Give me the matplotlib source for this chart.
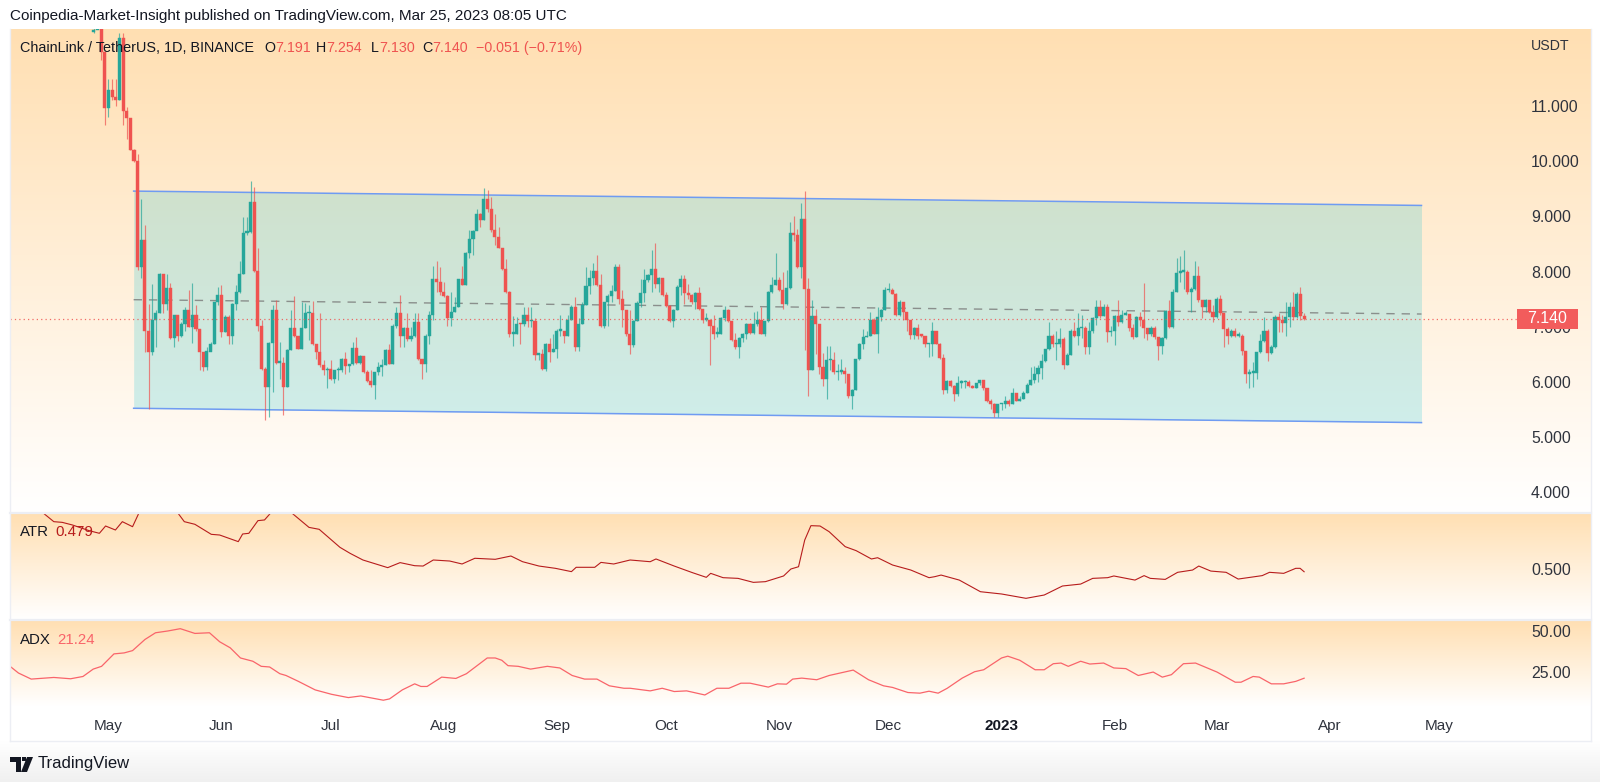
# ChainLink / TetherUS daily chart with channel, ATR and ADX panes
import pandas as pd
import matplotlib
matplotlib.use("Agg")
import matplotlib.pyplot as plt
import numpy as np
from matplotlib.colors import LinearSegmentedColormap
from matplotlib.patches import Polygon, Rectangle

plt.rcParams["font.family"] = ["Liberation Sans", "DejaVu Sans"]

W, H = 1600, 782
UP = "#26a69a"
DOWN = "#ef5350"
TEXT = "#131722"
AXTEXT = "#2f333d"
BORDER = "#eceef4"

# daily candles, first one is 2022-04-27
first_day = "2022-04-27"
closes = [
    12.39, 12.60, 11.99, 10.96, 11.30, 11.17, 11.12, 12.23, 10.91, 10.79, 10.20, 10.00,
    8.08, 8.58, 6.93, 6.54, 7.13, 7.25, 7.95, 7.41, 7.71, 6.79, 7.21, 6.84, 7.04, 7.31, 6.99, 7.22, 6.95,
    6.54, 6.27, 6.55, 6.69, 7.44, 7.57, 6.90, 7.18, 6.83, 7.42, 7.63, 7.96, 8.70, 8.71, 9.26, 8.01, 7.02,
    6.24, 5.91, 6.71, 7.31, 6.34, 6.35, 5.91, 6.58, 6.97, 6.83, 6.60, 6.98, 7.24, 7.25, 6.68, 6.54, 6.30,
    6.21, 6.24, 6.06, 6.21, 6.21, 6.41, 6.28, 6.32, 6.62, 6.34, 6.46, 6.18, 6.01, 5.94, 6.17, 6.27, 6.31,
    6.58, 6.33, 7.02, 7.24, 6.84, 6.98, 6.77, 6.83, 7.08, 6.41, 6.32, 6.84, 7.21, 7.87, 7.81, 7.63, 7.56,
    7.16, 7.27, 7.35, 7.86, 7.76, 8.34, 8.59, 8.73, 9.05, 8.94, 9.31, 9.13, 8.75, 8.63, 8.43, 8.04, 7.63,
    6.87, 6.87, 7.05, 7.04, 7.22, 7.10, 7.11, 6.49, 6.51, 6.23, 6.68, 6.54, 6.60, 6.92, 6.92, 6.83, 7.13,
    7.36, 6.64, 7.05, 7.40, 7.73, 7.89, 8.01, 7.75, 7.01, 7.44, 7.55, 7.65, 8.08, 7.51, 7.30, 6.87, 6.66,
    7.10, 7.43, 7.62, 7.84, 7.93, 8.04, 7.77, 7.88, 7.57, 7.38, 7.10, 7.31, 7.72, 7.86, 7.62, 7.58, 7.44,
    7.61, 7.33, 7.13, 7.13, 7.01, 6.87, 6.87, 7.16, 7.31, 7.11, 6.75, 6.63, 6.79, 6.87, 7.05, 6.89, 7.04,
    7.13, 6.87, 7.10, 7.63, 7.76, 7.84, 7.66, 7.42, 7.71, 8.70, 8.66, 8.08, 8.95, 7.69, 6.21, 7.20, 7.04,
    6.26, 6.06, 6.39, 6.39, 6.17, 6.18, 6.20, 6.14, 5.74, 5.86, 6.41, 6.69, 6.81, 6.83, 7.13, 6.87, 7.18,
    7.31, 7.66, 7.66, 7.60, 7.22, 7.44, 7.27, 7.12, 6.85, 6.98, 6.84, 6.83, 6.68, 6.69, 6.92, 6.69, 6.44,
    5.86, 6.01, 5.92, 5.77, 5.98, 5.99, 5.99, 5.92, 5.89, 5.97, 6.03, 5.88, 5.65, 5.59, 5.44, 5.59, 5.60,
    5.66, 5.59, 5.79, 5.66, 5.69, 5.80, 5.95, 6.04, 6.15, 6.25, 6.37, 6.59, 6.84, 6.68, 6.68, 6.78, 6.31,
    6.49, 6.92, 6.83, 6.97, 6.98, 6.64, 6.93, 7.15, 7.36, 7.19, 7.35, 6.90, 6.92, 7.19, 7.09, 7.22, 7.23,
    6.97, 6.81, 7.18, 7.13, 6.97, 6.87, 6.98, 6.81, 6.65, 6.80, 7.29, 7.00, 7.63, 7.98, 7.99, 7.99, 7.63,
    7.69, 7.92, 7.48, 7.35, 7.48, 7.27, 7.18, 7.51, 7.24, 6.95, 6.83, 6.92, 6.84, 6.84, 6.56, 6.15, 6.16,
    6.16, 6.54, 6.74, 6.93, 6.53, 6.64, 7.18, 7.12, 7.06, 7.18, 7.35, 7.18, 7.59, 7.19, 7.14,
]
highs = [
    12.60, 12.80, 12.70, 11.99, 11.50, 11.50, 11.50, 12.32, 12.32, 10.99, 10.29, 10.23,
    10.14, 9.32, 8.84, 7.42, 7.78, 7.30, 7.97, 7.96, 7.96, 7.79, 7.22, 7.22, 7.09, 7.35, 7.67, 7.79, 7.39,
    6.95, 6.54, 6.63, 6.72, 7.45, 7.72, 7.75, 7.22, 7.22, 7.43, 7.75, 8.20, 8.99, 8.99, 9.64, 9.54, 8.42,
    7.13, 6.27, 6.72, 7.39, 7.49, 6.72, 6.45, 6.60, 7.30, 7.55, 6.83, 7.45, 7.43, 7.39, 7.47, 6.68, 7.25,
    6.39, 6.26, 6.40, 6.22, 6.27, 6.43, 6.54, 6.33, 6.73, 6.81, 6.48, 6.47, 6.21, 6.21, 6.18, 6.36, 6.42,
    6.60, 6.69, 7.04, 7.36, 7.57, 6.99, 7.25, 6.99, 7.24, 7.24, 6.42, 6.86, 7.29, 8.11, 8.20, 8.08, 7.81,
    7.57, 7.63, 7.54, 7.87, 8.10, 8.36, 8.75, 8.75, 9.14, 9.06, 9.51, 9.48, 9.35, 9.05, 8.81, 8.43, 8.23,
    7.65, 7.19, 7.18, 7.07, 7.36, 7.35, 7.36, 7.16, 6.51, 6.60, 6.70, 6.80, 6.87, 6.95, 7.22, 6.93, 7.22,
    7.39, 7.54, 7.15, 7.45, 8.08, 8.02, 8.16, 8.30, 7.95, 7.45, 7.59, 7.75, 8.13, 8.13, 7.66, 7.30, 7.30,
    7.13, 7.47, 7.87, 8.05, 7.96, 8.39, 8.52, 7.91, 7.89, 7.63, 7.39, 7.33, 7.75, 7.93, 7.93, 7.78, 7.60,
    7.63, 7.72, 7.33, 7.24, 7.13, 7.22, 6.99, 7.18, 7.37, 7.33, 7.11, 6.89, 6.81, 6.89, 7.07, 7.07, 7.27,
    7.28, 7.36, 7.11, 7.65, 7.90, 8.33, 7.91, 7.99, 8.02, 8.90, 9.00, 8.78, 9.25, 9.46, 7.89, 7.49, 7.33,
    7.05, 6.52, 6.65, 6.65, 6.55, 6.33, 6.42, 6.27, 6.14, 5.87, 6.42, 6.70, 6.96, 6.93, 7.27, 7.15, 7.35,
    7.33, 7.72, 7.79, 7.71, 7.61, 7.48, 7.45, 7.27, 7.13, 6.99, 7.04, 6.87, 6.84, 6.70, 7.09, 6.93, 6.70,
    6.51, 6.03, 6.04, 5.95, 6.10, 6.03, 6.03, 6.03, 5.94, 5.98, 6.04, 6.04, 5.89, 5.69, 5.62, 5.60, 5.62,
    5.74, 5.69, 5.88, 5.80, 5.74, 5.83, 5.97, 6.27, 6.29, 6.30, 6.51, 6.60, 7.09, 6.86, 6.93, 6.98, 6.81,
    6.52, 6.95, 7.09, 7.25, 7.21, 7.01, 7.09, 7.18, 7.49, 7.49, 7.42, 7.42, 7.02, 7.21, 7.48, 7.31, 7.29,
    7.23, 7.04, 7.19, 7.27, 7.80, 6.98, 7.01, 7.01, 6.82, 6.81, 7.30, 7.49, 7.69, 8.25, 8.28, 8.39, 8.02,
    7.72, 8.19, 8.11, 7.48, 7.51, 7.49, 7.39, 7.53, 7.57, 7.24, 6.99, 6.95, 6.97, 6.90, 6.86, 6.56, 6.24,
    6.36, 6.55, 6.87, 7.18, 6.96, 6.66, 7.21, 7.24, 7.21, 7.45, 7.45, 7.63, 7.63, 7.72, 7.254,
]
lows = [
    12.32, 12.50, 11.83, 10.66, 10.81, 11.11, 11.00, 11.12, 10.66, 10.41, 10.20, 9.98,
    8.02, 7.89, 6.54, 5.51, 6.48, 6.63, 7.24, 7.24, 7.30, 6.78, 6.63, 6.74, 6.82, 6.93, 6.99, 6.70, 6.93,
    6.21, 6.19, 6.21, 6.57, 6.69, 7.39, 6.81, 6.90, 6.69, 6.68, 7.31, 7.61, 7.96, 8.66, 8.70, 7.99, 6.93,
    6.21, 5.30, 5.37, 5.81, 6.33, 6.06, 5.39, 5.91, 6.57, 6.81, 6.59, 6.60, 6.97, 6.75, 6.66, 6.42, 6.27,
    6.12, 5.88, 6.04, 5.97, 6.03, 6.18, 6.14, 6.18, 6.31, 6.33, 6.33, 6.16, 6.00, 5.91, 5.68, 6.12, 6.10,
    6.30, 6.32, 6.32, 6.97, 6.63, 6.63, 6.74, 6.74, 6.81, 6.39, 6.06, 6.18, 6.69, 7.12, 7.63, 7.57, 7.54,
    7.02, 7.02, 7.27, 7.35, 7.75, 7.75, 8.25, 8.30, 8.75, 8.81, 8.93, 9.08, 8.72, 8.48, 8.42, 8.02, 7.61,
    6.81, 6.65, 6.87, 6.68, 7.01, 6.99, 6.99, 6.39, 6.39, 6.22, 6.19, 6.36, 6.54, 6.44, 6.84, 6.70, 6.83,
    7.13, 6.56, 6.56, 7.05, 7.39, 7.60, 7.75, 7.74, 6.99, 6.98, 7.02, 7.45, 7.65, 7.42, 6.99, 6.84, 6.51,
    6.64, 7.10, 7.36, 7.45, 7.81, 7.63, 7.71, 7.63, 7.55, 7.35, 7.08, 6.99, 7.30, 7.57, 7.42, 7.51, 7.42,
    7.33, 7.31, 7.07, 7.10, 6.30, 6.78, 6.81, 6.87, 7.11, 7.09, 6.74, 6.59, 6.44, 6.72, 6.78, 6.87, 6.87,
    7.02, 6.86, 6.83, 7.09, 7.61, 7.75, 7.65, 7.33, 7.39, 7.69, 8.56, 8.07, 7.89, 6.57, 5.75, 6.21, 6.51,
    6.14, 5.92, 5.68, 6.22, 6.15, 6.03, 6.15, 5.97, 5.70, 5.51, 5.85, 6.40, 6.60, 6.81, 6.83, 6.86, 6.52,
    7.11, 7.30, 7.63, 7.59, 7.19, 7.19, 7.12, 6.93, 6.77, 6.77, 6.77, 6.81, 6.63, 6.45, 6.46, 6.68, 6.42,
    5.77, 5.79, 5.91, 5.66, 5.74, 5.88, 5.88, 5.91, 5.88, 5.88, 5.94, 5.86, 5.63, 5.50, 5.36, 5.36, 5.48,
    5.53, 5.56, 5.59, 5.65, 5.66, 5.68, 5.79, 5.94, 5.97, 6.00, 6.06, 6.36, 6.57, 6.64, 6.40, 6.64, 6.24,
    6.30, 6.48, 6.81, 6.66, 6.80, 6.51, 6.50, 6.89, 7.03, 7.16, 7.19, 6.72, 6.84, 6.66, 7.02, 7.06, 7.21,
    6.93, 6.78, 6.82, 7.02, 6.80, 6.75, 6.84, 6.78, 6.39, 6.51, 6.78, 6.97, 6.98, 7.63, 7.81, 7.69, 7.60,
    7.27, 7.66, 7.45, 7.16, 7.27, 7.25, 7.09, 7.16, 7.22, 6.64, 6.69, 6.82, 6.82, 6.82, 6.48, 5.97, 5.88,
    5.91, 6.06, 6.52, 6.72, 6.37, 6.51, 6.62, 6.90, 6.90, 6.84, 6.99, 7.12, 7.15, 7.13, 7.130,
]
opens = [12.34] + closes[:-1]

price_ticks = [4, 5, 6, 7, 8, 9, 10, 11]
last_price = 7.14

# channel drawn on the chart, days counted from 2022-05-01
base_day = "2022-05-01"
channel_days = [6.9, 360.2]
channel_top = [9.46, 9.20]
channel_mid = [7.49, 7.23]
channel_bot = [5.52, 5.26]

# ATR pane
atr_days = [-27, -21.2, -19.5, -17.8, -15, -12.7, -9.9, -5.3, -2.5, -0.8, 1.9, 3.8, 6.6, 8.3, 12, 16, 19.1, 20.8,
            23.7, 28.2, 30.5, 35.6, 36.8, 38.5, 41, 42.8, 44.4, 46, 48, 50.4, 55, 57.8, 63.5, 66.3, 69.8, 76.6,
            80, 84, 86.3, 89.1, 93.6, 97, 100.5, 106.1, 110.4, 113.6, 118.1, 122.6, 127, 128.3, 133.4, 135.1,
            138.6, 143.1, 148.6, 150.2, 155.2, 160.2, 164, 165.2, 168.6, 172.7, 176.9, 180.2, 185.2, 187.2,
            189.3, 191, 192.7, 195.2, 197.7, 202.1, 205.1, 209.3, 211, 215.1, 220.1, 225.1, 226.7, 228.4, 233.4,
            239.2, 245, 251.7, 256.7, 261.7, 266.7, 270, 274.1, 275.8, 281.6, 284.1, 285.8, 289.9, 293.3, 297.4,
            299.1, 302.4, 306.6, 309.9, 316.5, 318.5, 322.4, 325.7, 326.9, 328]
atr_values = [1.05, 0.991, 1.02, 0.991, 0.918, 0.912, 0.889, 0.839, 0.816, 0.880, 0.845, 0.918, 0.874, 0.991, 1.2, 1.15,
              0.991, 0.918, 0.895, 0.807, 0.801, 0.743, 0.810, 0.816, 0.927, 0.933, 0.991, 1.03, 1.01, 0.991, 0.868,
              0.851, 0.693, 0.640, 0.582, 0.515, 0.559, 0.532, 0.529, 0.582, 0.573, 0.547, 0.597, 0.588, 0.617, 0.567,
              0.529, 0.509, 0.480, 0.518, 0.518, 0.561, 0.547, 0.582, 0.567, 0.591, 0.529, 0.471, 0.430, 0.465, 0.427,
              0.421, 0.386, 0.392, 0.442, 0.503, 0.523, 0.757, 0.883, 0.880, 0.830, 0.699, 0.664, 0.591, 0.602, 0.538,
              0.494, 0.427, 0.436, 0.450, 0.406, 0.304, 0.284, 0.246, 0.275, 0.354, 0.371, 0.421, 0.427, 0.442, 0.406,
              0.445, 0.421, 0.412, 0.474, 0.494, 0.529, 0.485, 0.474, 0.415, 0.445, 0.474, 0.465, 0.509, 0.509, 0.479]

# ADX pane
adx_days = [-27, -24.7, -21.2, -15, -10.4, -7, -4.2, -1.9, 1.5, 4.3, 6.6, 10, 12.9, 16.3, 19.7, 23.7, 27.7, 30.5, 33.4,
            36.2, 39.6, 41.9, 44.2, 47, 48.7, 52.1, 56.7, 61.2, 65.8, 69.2, 75.4, 77.1, 80.6, 84, 85.7, 87.4, 91.4,
            95.3, 98.2, 103.9, 106.1, 107.9, 109.6, 112.4, 115.8, 120.4, 123.8, 127.2, 130.6, 134, 137.4, 141.4,
            143.1, 148.6, 151.9, 155.2, 158.6, 163.6, 166.9, 170.2, 173.5, 176, 181, 183.5, 186, 187.7, 190.2, 194.3,
            197.7, 204.3, 208.5, 212.6, 215.1, 219.3, 222.6, 225.1, 227.6, 230.1, 234.2, 237.6, 240.1, 245, 246.7,
            250, 254.2, 256.7, 259.2, 261.3, 263.3, 266.7, 269.2, 273, 275.8, 279.1, 282.5, 286.6, 289.1, 291.6,
            294.9, 298.2, 304.1, 309.1, 310.7, 314, 315.7, 319, 322.4, 325.7, 328]
adx_values = [28.5, 24.4, 20.7, 21.7, 20.9, 22.3, 26.8, 28.5, 36.1, 36.7, 38.1, 44.9, 49.0, 50.1, 51.5, 48.6, 49.0, 43.5,
              39.8, 33.6, 31.6, 28.5, 28.1, 24.0, 22.9, 19.3, 14.1, 11.4, 9.4, 10.4, 7.8, 8.6, 14.1, 17.8, 16.2, 16.2,
              21.9, 21.1, 24.0, 33.6, 33.6, 32.2, 28.9, 28.5, 26.8, 28.5, 27.5, 22.9, 20.7, 20.7, 16.6, 15.1, 15.1, 13.5,
              15.1, 13.1, 13.5, 11.0, 15.1, 15.1, 18.2, 18.2, 15.8, 17.8, 17.6, 20.7, 21.3, 20.3, 22.9, 26.2, 20.3, 16.6,
              15.6, 12.5, 12.1, 13.3, 12.1, 15.1, 21.3, 25.2, 26.4, 33.6, 34.7, 32.2, 26.4, 26.4, 30.1, 30.5, 28.5, 31.6,
              29.9, 30.5, 27.5, 27.1, 22.9, 25.0, 21.9, 23.4, 30.1, 30.5, 25.0, 18.8, 18.8, 22.3, 21.9, 17.8, 17.8, 19.3,
              21.24]

month_dates = ["2022-05-01", "2022-06-01", "2022-07-01", "2022-08-01", "2022-09-01", "2022-10-01",
               "2022-11-01", "2022-12-01", "2023-01-01", "2023-02-01", "2023-03-01", "2023-04-01", "2023-05-01"]
month_labels = ["May", "Jun", "Jul", "Aug", "Sep", "Oct", "Nov", "Dec", "2023", "Feb", "Mar", "Apr", "May"]


def add_box(x0, y0, x1, y1, **kw):
    # axes from pixel corners, y counted from the top
    return fig.add_axes([x0 / W, 1 - y1 / H, (x1 - x0) / W, (y1 - y0) / H], **kw)


def day_dates(days):
    return pd.Timestamp(base_day) + pd.to_timedelta(days, unit="D")


fig = plt.figure(figsize=(W / 100, H / 100), dpi=100, facecolor="white")

# pane backgrounds
pane_cmap = LinearSegmentedColormap.from_list("pane", ["#ffdfb2", "#ffffff"])
for y0, y1 in [(28.5, 513), (513, 620), (620, 706)]:
    bg = add_box(10, y0, 1591, y1, zorder=0)
    bg.imshow(np.linspace(0, 1, 256).reshape(-1, 1), cmap=pane_cmap, aspect="auto")
    bg.axis("off")

day_lim = (day_dates(-27.02), day_dates(386.4))


def add_pane(y0, y1):
    ax = add_box(10, y0, 1517, y1, zorder=2)
    ax.patch.set_alpha(0)
    for s in ax.spines.values():
        s.set_visible(False)
    ax.set_xlim(*day_lim)
    ax.yaxis.tick_right()
    ax.tick_params(axis="y", length=0, pad=10, labelsize=11.4, labelcolor=AXTEXT)
    ax.tick_params(axis="x", length=0, labelbottom=False)
    return ax


# price pane
ax = add_pane(28.5, 513)
ax.set_ylim(3.62, 12.41)
ax.set_yticks(price_ticks)
ax.set_yticklabels([f"{p:.3f}" for p in price_ticks])

days = pd.date_range(first_day, periods=len(closes))
o = np.array(opens)
c = np.array(closes)
colors = [UP if b >= a else DOWN for a, b in zip(o, c)]

ch_x = day_dates(channel_days)
ax.fill_between(ch_x, channel_bot, channel_top, color="#00bed2", alpha=0.19, lw=0, zorder=1)
ax.plot(ch_x, channel_top, color="#6f9bf2", lw=1.1, zorder=2)
ax.plot(ch_x, channel_bot, color="#6f9bf2", lw=1.1, zorder=2)
ax.plot(ch_x, channel_mid, color="#8a8f8c", lw=1.0, dashes=(6, 5), zorder=2)

ax.vlines(days, lows, highs, colors=colors, lw=0.85, alpha=0.7, zorder=3)
ax.bar(days, np.maximum(np.abs(c - o), 0.03), bottom=np.minimum(o, c), width=0.85, color=colors,
       lw=0.3, edgecolor=colors, zorder=4)
ax.axhline(last_price, color=DOWN, lw=0.9, ls=(0, (1, 2.5)), alpha=0.85, zorder=5)
ax.add_patch(Rectangle((1.0, last_price - 0.18), 0.0405, 0.36, transform=ax.get_yaxis_transform(),
                       facecolor="#f25c5c", lw=0, clip_on=False, zorder=5))
ax.text(1.0202, last_price, "7.140", transform=ax.get_yaxis_transform(), color="white", fontsize=11.4,
        ha="center", va="center", clip_on=False, zorder=6)

# ATR pane
ax_atr = add_pane(513, 620)
ax_atr.set_ylim(0.056, 0.994)
ax_atr.set_yticks([0.5])
ax_atr.set_yticklabels(["0.500"])
ax_atr.plot(day_dates(atr_days), atr_values, color="#b71c1c", lw=0.8)

# ADX pane
ax_adx = add_pane(620, 706)
ax_adx.set_ylim(4.26, 56.8)
ax_adx.set_yticks([25, 50])
ax_adx.set_yticklabels(["25.00", "50.00"])
ax_adx.plot(day_dates(adx_days), adx_values, color="#f9646a", lw=0.9)
ax_adx.set_xticks(pd.to_datetime(month_dates))
ax_adx.set_xticklabels(month_labels)
ax_adx.tick_params(axis="x", labelbottom=True, pad=9.5, labelsize=11, labelcolor=AXTEXT)
for lab in ax_adx.get_xticklabels():
    if lab.get_text() == "2023":
        lab.set_fontweight("bold")
        lab.set_color(TEXT)

# frame, separators and footer on a full figure layer
foot = add_box(0, 741, W, H, zorder=1)
foot.imshow(np.linspace(0, 1, 64).reshape(-1, 1), aspect="auto",
            cmap=LinearSegmentedColormap.from_list("foot", ["#ffffff", "#f0f0f0"]))
foot.axis("off")

top = fig.add_axes([0, 0, 1, 1], zorder=8)
top.set_xlim(0, W)
top.set_ylim(H, 0)
top.axis("off")
top.patch.set_alpha(0)
top.plot([10, 10], [28.5, 741], color=BORDER, lw=1)
top.plot([1591, 1591], [28.5, 741], color=BORDER, lw=1)
top.plot([10, 1591], [741, 741], color=BORDER, lw=1)
top.plot([10, 1591], [513, 513], color=BORDER, lw=1.6)
top.plot([10, 1591], [620, 620], color=BORDER, lw=1.6)

# TradingView logo
top.add_patch(Polygon([(10, 757), (21, 757), (21, 772), (15.5, 772), (15.5, 762), (10, 762)], color="#131722", lw=0))
top.add_patch(Polygon([(27, 757), (33, 757), (27, 772), (21, 772)], color="#131722", lw=0))
top.add_patch(Rectangle((22, 757), 4, 4, color="#131722", lw=0))
top.text(38, 763.5, "TradingView", fontsize=12, color=TEXT, ha="left", va="center")

# header and legends
top.text(10, 16, "Coinpedia-Market-Insight published on TradingView.com, Mar 25, 2023 08:05 UTC",
         fontsize=10.95, color=TEXT, ha="left", va="center")
row_y = 48
top.text(20, row_y, "ChainLink / TetherUS, 1D, BINANCE", fontsize=10.4, color=TEXT, ha="left", va="center")
for x, s, col in [(264, "O", TEXT), (275, "7.191", DOWN), (316, "H", TEXT), (326, "7.254", DOWN),
                  (371, "L", TEXT), (379, "7.130", DOWN), (422, "C", TEXT), (432, "7.140", DOWN),
                  (476, "\u22120.051 (\u22120.71%)", DOWN)]:
    top.text(x, row_y, s, fontsize=10.3, color=col, ha="left", va="center")
top.text(1531, 46, "USDT", fontsize=10.2, color=AXTEXT, ha="left", va="center")
top.text(20, 532, "ATR", fontsize=10.8, color=TEXT, ha="left", va="center")
top.text(55, 532, "0.479", fontsize=10.8, color="#b71c1c", ha="left", va="center")
top.text(20, 640, "ADX", fontsize=10.8, color=TEXT, ha="left", va="center")
top.text(57, 640, "21.24", fontsize=10.8, color="#f9646a", ha="left", va="center")

fig.savefig("out.png", dpi=100)
